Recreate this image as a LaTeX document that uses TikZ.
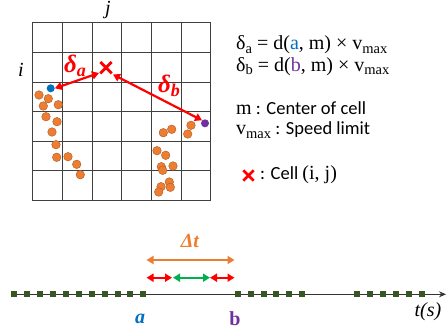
\documentclass[tikz,border=0pt]{standalone}
\usepackage{fontspec}
\setmainfont{Carlito}
\newfontfamily\serif{Liberation Serif}
\usetikzlibrary{arrows.meta}
\definecolor{myorange}{HTML}{ED7D31}
\definecolor{myorangedk}{HTML}{AE5A21}
\definecolor{myblue}{HTML}{0070C0}
\definecolor{mypurple}{HTML}{7030A0}
\definecolor{mygreen}{HTML}{00B050}
\definecolor{sqgreen}{HTML}{375623}
\tikzset{
  gridline/.style={draw=black!75, line width=0.9pt},
  odot/.style={circle, fill=myorange, draw=myorangedk, line width=0.4pt, minimum size=8.6pt, inner sep=0pt},
  dbl/.style={line width=2.2pt, {Triangle[width=8pt,length=7pt]}-{Triangle[width=8pt,length=7pt]}},
  sq/.style={fill=sqgreen, minimum size=6pt, inner sep=0pt},
  lbl/.style={anchor=west, inner sep=0pt, font=\fontsize{18.5}{20}\selectfont},
  big/.style={font=\serif\fontsize{20}{20}\selectfont},
}
\newcommand{\lsub}[1]{\raisebox{-3.5pt}{\fontsize{14.5}{14.5}\selectfont #1}}
\begin{document}
\begin{tikzpicture}[x=1pt,y=-1pt]
\useasboundingbox (0,0) rectangle (447,332);
% grid
\foreach \x in {32.3,62.7,92.3,121.7,151.7,181.7,210.7}
  \draw[gridline] (\x,22.7) -- (\x,200.3);
\foreach \y in {22.7,52.3,82,111.7,141.3,170.7,200.3}
  \draw[gridline] (32.3,\y) -- (210.7,\y);
\node[font=\serif\itshape\fontsize{20}{20}\selectfont] (j) at (108,10) {j};
\node[font=\serif\itshape\fontsize{20}{20}\selectfont] (i) at (21,70) {i};
% orange dots
\foreach \p [count=\k] in {(39,95),(48.3,98.7),(43.3,106),(58.3,104.7),(46,116.7),(57,121.7),(52,132),(56,144.7),(56.7,157.3),(68,156.7),(76.7,164.3),(80.3,174.7),
  (163.3,132.7),(171.7,129.3),(191,125.3),(187.7,134),(157,150.7),(165.7,155.3),(161.3,166.7),(173,166),(162.7,170.3),(169.3,182),(161,186.7),(170.3,187.3),(158.7,192)}
  \node[odot] (o\k) at \p {};
\node[circle, fill=myblue, minimum size=8pt, inner sep=0pt] (da) at (50.7,88.3) {};
\node[circle, fill=mypurple, minimum size=8pt, inner sep=0pt] (db) at (205,123.3) {};
% cross
\node[inner sep=0pt, minimum size=11pt] (m) at (106,67.7) {};
\draw[red, line width=2.8pt] (m.north west) -- (m.south east) (m.north east) -- (m.south west);
\coordinate (ma) at (99,73);
\coordinate (mb) at (113,74.5);
\draw[red, dbl] (ma) -- (da.east);
\draw[red, dbl] (mb) -- (db.north west);
\node[red, font=\serif\bfseries\itshape\fontsize{25}{25}\selectfont] (la) at (75,66) {δ\raisebox{-4pt}{\fontsize{18}{18}\selectfont a}};
\node[red, font=\serif\bfseries\itshape\fontsize{25}{25}\selectfont] (lb) at (169,86) {δ\raisebox{-4pt}{\fontsize{18}{18}\selectfont b}};
% legend
\node[lbl, big] (e1) at (236,45) {δ\lsub{a} = d(\textcolor{myblue}{a}, m) × v\lsub{max}};
\node[lbl, big] (e2) at (236,66.5) {δ\lsub{b} = d(\textcolor{mypurple}{b}, m) × v\lsub{max}};
\node[lbl] (e3) at (236,108) {{\serif\fontsize{20}{20}\selectfont m} : Center of cell};
\node[lbl] (e4) at (236,130) {{\serif\fontsize{20}{20}\selectfont v\lsub{max}} : Speed limit};
\node[inner sep=0pt, minimum size=10pt] (cx) at (248.5,175.5) {};
\draw[red, line width=2.8pt] (cx.north west) -- (cx.south east) (cx.north east) -- (cx.south west);
\node[lbl] (e5) at (260,175) {: Cell {\serif\fontsize{20}{20}\selectfont (i, j)}};
% timeline
\coordinate (t0) at (12,294.3);
\coordinate (t1) at (446,294.3);
\draw[black!80, line width=0.9pt, -{Stealth[length=7pt,width=6pt]}] (t0) -- (t1);
\foreach \k in {0,...,10} \node[sq] at (14.3+\k*12.9,294.3) {};
\foreach \k in {0,...,5} \node[sq] at (238.3+\k*12.7,294.3) {};
\foreach \k in {0,...,5} \node[sq] at (356.7+\k*13,294.3) {};
\node[font=\serif\itshape\fontsize{20}{20}\selectfont] (ts) at (428,312) {t(s)};
\node[myblue, font=\serif\bfseries\itshape\fontsize{20}{20}\selectfont] (ta) at (140,319) {a};
\node[mypurple, font=\serif\bfseries\fontsize{20}{20}\selectfont] (tb) at (235,319) {b};
\coordinate (p1) at (146.5,277.7);
\coordinate (p2) at (172,277.7);
\coordinate (p3) at (210,277.7);
\coordinate (p4) at (234.5,277.7);
\coordinate (q1) at (146.5,260);
\coordinate (q2) at (234.5,260);
\draw[myorange, dbl] (q1) -- (q2);
\node[myorange, font=\serif\bfseries\itshape\fontsize{20}{20}\selectfont] (dt) at (190,241) {Δt};
\draw[red, dbl] (p1) -- (p2);
\draw[mygreen, dbl] ([xshift=1pt]p2) -- (p3);
\draw[red, dbl] (p3) -- (p4);
\end{tikzpicture}
\end{document}
